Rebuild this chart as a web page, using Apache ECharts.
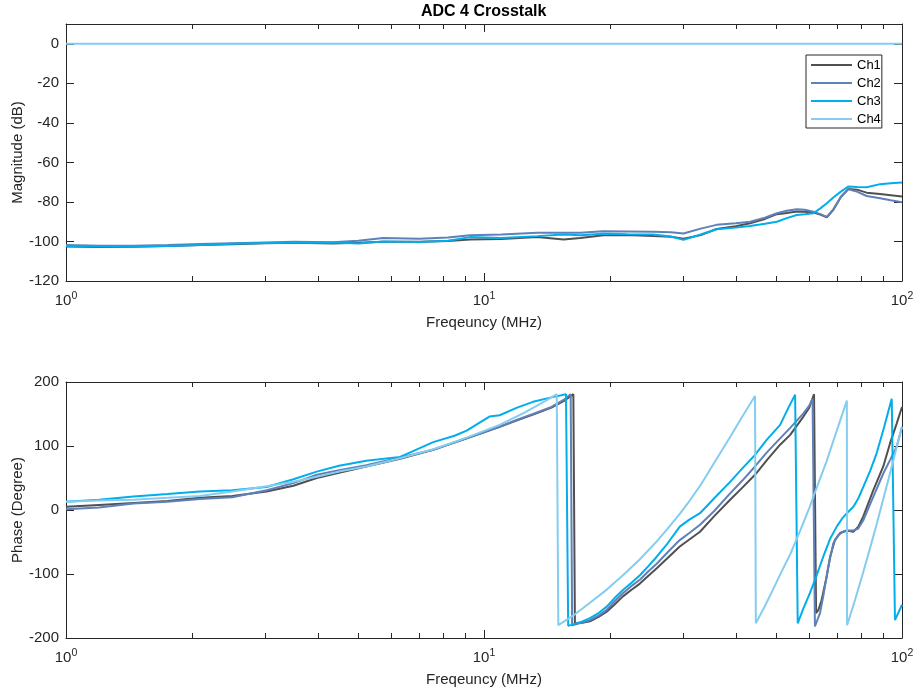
<!DOCTYPE html>
<html><head><meta charset="utf-8">
<script src="https://cdn.jsdelivr.net/npm/echarts@6/dist/echarts.min.js"></script>
<style>html,body{margin:0;padding:0;background:#fff}#c{width:916px;height:696px}</style>
</head><body><div id="c"></div>
<script>
// ---------- DATA ----------
const channels = ['Ch1', 'Ch2', 'Ch3', 'Ch4'];
const xTicks = [1, 10, 100];
const xTickLabels = ['10{s|0}', '10{s|1}', '10{s|2}'];
const minorTicks = [2, 3, 4, 5, 6, 7, 8, 9, 20, 30, 40, 50, 60, 70, 80, 90];

// Magnitude (dB)
const magFreq = [1, 1.2, 1.45, 1.75, 2.1, 2.5, 3, 3.5, 4.35, 5, 5.74, 7, 8.2, 9.26, 11, 13.4, 15.5, 17, 19.3, 22, 25.4, 28, 30, 33, 36, 40, 43.3, 47, 50.2, 53, 56, 58.5, 61.4, 64, 66.1, 68.5, 71.4, 74.4, 78, 82.3, 88.6, 94, 100];
const magCh1 = [-102.5, -102.8, -102.7, -102.3, -101.8, -101.4, -100.9, -100.6, -101, -100.7, -100.2, -100.2, -99.8, -99.0, -98.7, -97.8, -99.0, -98.2, -96.8, -96.7, -97.3, -97.6, -98.6, -96.8, -93.7, -92.3, -90.8, -88.6, -86.2, -85.6, -84.9, -85.0, -85.4, -86.5, -87.8, -84.0, -77.5, -73.4, -73.8, -75.3, -76.0, -76.6, -77.3];
const magCh2 = [-101.8, -102.2, -102.2, -101.8, -101.3, -100.9, -100.5, -100.2, -100.4, -99.6, -98.3, -98.6, -98.0, -96.8, -96.5, -95.6, -95.6, -95.6, -94.8, -94.9, -95.1, -95.3, -96.0, -93.5, -91.6, -90.8, -90.0, -88.0, -85.7, -84.5, -83.7, -84.0, -84.9, -86.3, -87.6, -83.8, -77.5, -73.6, -74.8, -77.0, -78.1, -79.2, -80.2];
const magCh3 = [-102.3, -102.6, -102.5, -102.3, -101.8, -101.2, -100.8, -100.7, -100.5, -101.0, -100.0, -100.3, -99.6, -97.8, -98.2, -97.3, -96.5, -96.8, -96.1, -96.3, -96.5, -97.5, -99.2, -96.5, -93.8, -93.0, -92.2, -91.0, -90.0, -88.2, -86.6, -86.2, -85.7, -83.0, -80.7, -77.8, -74.8, -72.2, -72.4, -72.6, -71.0, -70.6, -70.2];
const magFreqCh4 = [1, 100];
const magCh4 = [0, 0];

// Phase (Degree)
const phaseFreqCh1 = [1, 1.2, 1.45, 1.75, 2.09, 2.5, 3.02, 3.5, 3.98, 4.5, 5.23, 6.3, 7.56, 9.09, 10.9, 12, 13.1, 14.5, 15.5, 16.36,
  16.5, 17.2, 17.93, 18.8, 19.66, 20.5, 21.5, 22.5, 23.6, 24.7, 25.9, 27.5, 29.4, 31, 32.87, 35.5, 38.8, 41.5, 44.5, 47.5, 51.1, 53.95, 58.1, 60, 61.6,
  62.3, 63.1, 64.2, 66.05, 67.3, 69.1, 71.1, 73.7, 76.5, 78.6, 80.8, 85.4, 90.2, 93.6, 97.1, 100];
const phaseCh1 = [5, 8, 11, 14, 19, 22, 29, 38, 50, 58, 68, 80, 94, 112, 130, 140, 149, 160, 170, 181,
  -177, -176, -174, -167, -159, -148, -135, -125, -115, -103, -91, -75, -57, -46, -34, -10, 16, 35, 55, 78, 102, 117, 146, 160, 181,
  -161, -156, -141, -104, -73, -47, -36, -32, -34, -26, -10, 31, 68, 104, 135, 161];
const phaseFreqCh2 = [1, 1.2, 1.45, 1.75, 2.09, 2.5, 3.02, 3.5, 3.98, 4.5, 5.23, 6.3, 7.56, 9.09, 10.9, 12, 13.1, 14.5, 15.5, 16.12,
  16.25, 17.2, 17.93, 18.8, 19.66, 20.5, 21.5, 22.5, 23.6, 24.7, 25.9, 27.5, 29.4, 31, 32.87, 35.5, 38.8, 41.5, 44.5, 47.5, 51.1, 53.95, 58.1, 60, 61.1,
  61.9, 63.65, 64.8, 66.6, 68.5, 70.4, 72.4, 74.4, 76.5, 78.6, 80.8, 85.4, 90.2, 93.6, 97.1, 100];
const phaseCh2 = [1, 4, 10, 13, 17, 20, 31, 42, 55, 62, 70, 82, 94, 112, 130, 141, 150, 161, 172, 181,
  -180, -176, -172, -165, -156, -143, -130, -119, -109, -96, -84, -66, -47, -36, -23, -2, 26, 46, 68, 90, 112, 128, 151, 163, 174,
  -182, -161, -135, -89, -52, -39, -34, -32, -32, -29, -16, 21, 57, 78, 99, 130];
const phaseFreqCh3 = [1, 1.2, 1.45, 1.75, 2.09, 2.5, 3.02, 3.5, 3.98, 4.5, 5.23, 6.3, 7.56, 8.5, 9.09, 9.4, 10.3, 10.9, 12, 13.1, 14.5, 15.71,
  15.9, 17.2, 17.93, 18.8, 19.66, 20.5, 21.5, 22.5, 23.6, 24.7, 25.9, 27.5, 29.4, 31, 32.87, 35.5, 38.8, 41.5, 44.5, 47.5, 51.1, 53.5, 55.5,
  56.3, 58, 60.2, 62.5, 64.8, 67.3, 69.8, 71.8, 73.8, 76.5, 78.6, 80.8, 84, 87, 90.5, 94.5,
  96.2, 100];
const phaseCh3 = [13, 16, 21, 25, 29, 31, 36, 48, 60, 69, 77, 83, 106, 116, 124, 130, 146, 148, 160, 169, 176, 181,
  -181, -174, -169, -161, -151, -138, -125, -114, -102, -88, -73, -52, -26, -15, -5, 18, 44, 65, 86, 110, 133, 160, 180,
  -177, -155, -130, -102, -73, -45, -26, -14, -5, 5, 18, 36, 62, 89, 128, 174,
  -172, -148];
const phaseFreqCh4 = [1, 1.2, 1.45, 1.75, 2.09, 2.5, 3.02, 3.5, 3.98, 4.5, 5.23, 6.3, 7.56, 8.3, 9.09, 10.9, 12.5, 14.0, 14.93,
  15.06, 16.5, 17.93, 19.7, 21.5, 23.6, 25.9, 27.5, 29.4, 31, 32.9, 35.4, 38.8, 41.5, 44.5,
  44.7, 47, 49, 51.1, 53.95, 57, 60, 63.1, 66, 68.5, 71, 73.8,
  73.9, 77, 80.8, 84, 87, 90.2, 93.6, 97, 100];
const phaseCh4 = [13, 15, 16, 19, 22, 29, 37, 44, 52, 60, 68, 81, 95, 104, 113, 133, 152, 170, 181,
  -180, -163, -145, -124, -102, -77, -49, -29, -6, 14, 38, 72, 114, 146, 178,
  -177, -150, -126, -101, -70, -33, 3, 42, 76, 108, 138, 171,
  -180, -143, -97, -58, -22, 17, 57, 97, 130];

// ---------- STYLE ----------
const FONT = '"Liberation Sans", Arial, Helvetica, sans-serif';
const AX = '#262626';
const lineColors = ['#505050', '#5F80B9', '#00AEEB', '#84CDF0'];

const pairs = (xs, ys) => xs.map((x, i) => [x, ys[i]]);
const magData = [pairs(magFreq, magCh1), pairs(magFreq, magCh2), pairs(magFreq, magCh3), pairs(magFreqCh4, magCh4)];
const phaseData = [pairs(phaseFreqCh1, phaseCh1), pairs(phaseFreqCh2, phaseCh2), pairs(phaseFreqCh3, phaseCh3), pairs(phaseFreqCh4, phaseCh4)];

function xLabel(v) {
  for (let i = 0; i < xTicks.length; i++) if (Math.abs(v - xTicks[i]) < 1e-6 * xTicks[i]) return xTickLabels[i];
  return '';
}

function xAxes(gridIndex) {
  const common = {
    gridIndex, type: 'log', logBase: 10, min: 1, max: 100,
    axisLine: { show: true, onZero: false, lineStyle: { color: AX, width: 1 } },
    axisTick: { show: true, inside: true, length: 8, lineStyle: { color: AX } },
    splitLine: { show: false }, minorTick: { show: false }, minorSplitLine: { show: false }
  };
  return [
    Object.assign({}, common, {
      position: 'bottom',
      axisLabel: {
        show: true, formatter: xLabel, margin: 10, color: AX, fontFamily: FONT, showMinLabel: true, showMaxLabel: true,
        rich: { s: { fontSize: 10.5, fontFamily: FONT, color: AX, verticalAlign: 'top', padding: [0, 0, 0, 0] } },
        fontSize: 15, lineHeight: 20
      },
      name: 'Freqeuncy (MHz)', nameLocation: 'middle', nameGap: 34, nameMoveOverlap: false,
      nameTextStyle: { fontSize: 15, fontFamily: FONT, color: AX }
    }),
    Object.assign({}, common, { position: 'top', axisLabel: { show: false } })
  ];
}

function yAxes(gridIndex, min, max, interval, name) {
  const common = {
    gridIndex, type: 'value', min, max, interval,
    axisLine: { show: true, onZero: false, lineStyle: { color: AX, width: 1 } },
    axisTick: { show: true, inside: true, length: 8, lineStyle: { color: AX } },
    splitLine: { show: false }
  };
  return [
    Object.assign({}, common, {
      position: 'left',
      axisLabel: { show: true, margin: 7, fontSize: 15, color: AX, fontFamily: FONT,
        formatter: v => (v > max - 1e-9 && (max % interval) !== 0) ? '' : String(v) },
      name, nameLocation: 'middle', nameGap: 41, nameMoveOverlap: false,
      nameTextStyle: { fontSize: 15, fontFamily: FONT, color: AX }
    }),
    Object.assign({}, common, { position: 'right', axisLabel: { show: false } })
  ];
}

function minorTickSeries(xIdx, yIdx, yMin) {
  return {
    type: 'custom', name: 'minor' + xIdx, xAxisIndex: xIdx, yAxisIndex: yIdx, silent: true, clip: false, z: 5,
    data: minorTicks.map(v => [v, yMin]),
    renderItem: (params, api) => {
      const p = api.coord([api.value(0), api.value(1)]);
      const cs = params.coordSys;
      const top = cs.y, bot = cs.y + cs.height;
      const x = Math.round(p[0]) + 0.5;
      return { type: 'group', children: [
        { type: 'line', shape: { x1: x, y1: bot, x2: x, y2: bot - 5 }, style: { stroke: AX, lineWidth: 1 } },
        { type: 'line', shape: { x1: x, y1: top, x2: x, y2: top + 5 }, style: { stroke: AX, lineWidth: 1 } }
      ] };
    }
  };
}

const series = [];
channels.forEach((name, i) => {
  series.push({ type: 'line', name, xAxisIndex: 0, yAxisIndex: 0, data: magData[i], symbol: 'none', showSymbol: false,
    lineStyle: { color: lineColors[i], width: 2 }, itemStyle: { color: lineColors[i] }, z: 2 + i, animation: false });
});
channels.forEach((name, i) => {
  series.push({ type: 'line', name, xAxisIndex: 2, yAxisIndex: 2, data: phaseData[i], symbol: 'none', showSymbol: false,
    lineStyle: { color: lineColors[i], width: 2 }, itemStyle: { color: lineColors[i] }, z: 2 + i, animation: false });
});
series.push(minorTickSeries(0, 0, -120));
series.push(minorTickSeries(2, 2, -200));

const option = {
  backgroundColor: '#fff',
  animation: false,
  textStyle: { fontFamily: FONT },
  title: { text: 'ADC 4 Crosstalk', left: 421, top: 4, padding: 0,
    textStyle: { fontSize: 16, fontWeight: 'bold', color: '#000', fontFamily: FONT } },
  legend: {
    data: channels, orient: 'vertical', left: 806, top: 55, padding: [3, 1, 2, 5], itemGap: 4,
    icon: 'rect', itemWidth: 41, itemHeight: 2, borderColor: AX, borderWidth: 1, borderRadius: 0, backgroundColor: '#fff',
    textStyle: { fontSize: 13, lineHeight: 14, color: '#000', fontFamily: FONT }
  },
  grid: [
    { left: 66, top: 24, width: 836, height: 257, containLabel: false, outerBoundsMode: 'none', show: false },
    { left: 66, top: 382, width: 836, height: 256, containLabel: false, outerBoundsMode: 'none', show: false }
  ],
  xAxis: [...xAxes(0), ...xAxes(1)],
  yAxis: [...yAxes(0, -120, 10, 20, 'Magnitude (dB)'), ...yAxes(1, -200, 200, 100, 'Phase (Degree)')],
  series
};

const chart = echarts.init(document.getElementById('c'), null, { renderer: 'canvas' });
chart.setOption(option);
</script>
</body></html>
